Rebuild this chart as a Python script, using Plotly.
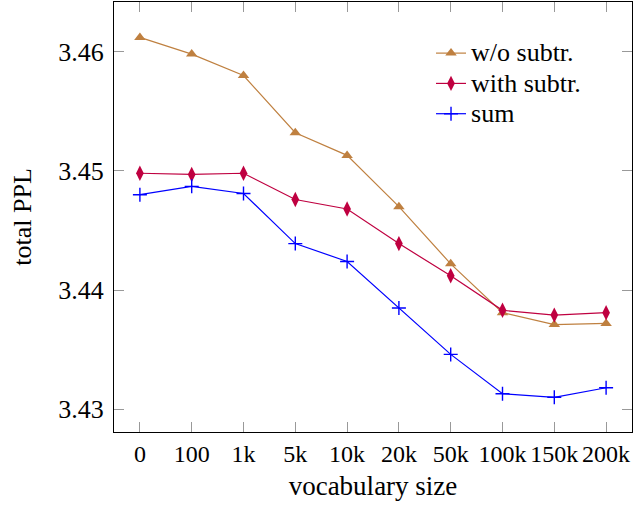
import plotly.graph_objects as go

categories = ["0", "100", "1k", "5k", "10k", "20k", "50k", "100k", "150k", "200k"]
wo_subtr = [3.4612, 3.4598, 3.4580, 3.4532, 3.4513, 3.4470, 3.4422, 3.4381, 3.4371, 3.4372]
with_subtr = [3.4498, 3.4497, 3.4498, 3.4476, 3.4468, 3.4439, 3.4412, 3.4383, 3.4379, 3.4381]
sum_vals = [3.4480, 3.4487, 3.4481, 3.4439, 3.4424, 3.4385, 3.4346, 3.4313, 3.4310, 3.4318]
y_ticks = [3.43, 3.44, 3.45, 3.46]
series_names = ["w/o subtr.", "with subtr.", "sum"]

BROWN = "#BF8040"
PURPLE = "#BF0040"
BLUE = "#0000FF"
FONT = "Liberation Serif"


def legend_label(name):
    return f"<span style='font-size:26px'>{name}</span>"


x = list(range(len(categories)))
fig = go.Figure()
fig.add_trace(go.Scatter(x=x, y=wo_subtr, name=legend_label(series_names[0]), mode="lines+markers",
                         line=dict(color=BROWN, width=1.2),
                         marker=dict(symbol="triangle-up", size=10, color=BROWN)))
fig.add_trace(go.Scatter(x=x, y=with_subtr, name=legend_label(series_names[1]), mode="lines+markers",
                         line=dict(color=PURPLE, width=1.2),
                         marker=dict(symbol="diamond-tall", size=11, color=PURPLE)))
fig.add_trace(go.Scatter(x=x, y=sum_vals, name=legend_label(series_names[2]), mode="lines+markers",
                         line=dict(color=BLUE, width=1.2),
                         marker=dict(symbol="cross-thin", size=10, color=BLUE,
                                     line=dict(color=BLUE, width=1.4))))

fig.update_layout(
    width=642, height=507,
    margin=dict(l=114, r=10, t=2, b=75, autoexpand=False),
    paper_bgcolor="white", plot_bgcolor="white",
    font=dict(family=FONT, size=25, color="black"),
    showlegend=True,
    legend=dict(x=0.612, y=0.928, xanchor="left", yanchor="top",
                bgcolor="rgba(0,0,0,0)", borderwidth=0,
                font=dict(family=FONT, size=21), tracegroupgap=0,
                itemwidth=30),
    xaxis=dict(
        tickmode="array", tickvals=x, ticktext=categories,
        range=[-0.5, len(categories) - 0.5],
        showgrid=False, zeroline=False,
        showline=True, linecolor="black", linewidth=1.3, mirror="all",
        ticks="inside", ticklen=10, tickcolor="#999999", tickwidth=1,
        tickfont=dict(family=FONT, size=24),
        title=dict(text="vocabulary size", font=dict(family=FONT, size=27), standoff=10),
    ),
    yaxis=dict(
        tickmode="array", tickvals=y_ticks, ticktext=[f"{v:.2f}" for v in y_ticks],
        range=[3.42809, 3.46417],
        showgrid=False, zeroline=False,
        showline=True, linecolor="black", linewidth=1.3, mirror="all",
        ticks="inside", ticklen=10, tickcolor="#999999", tickwidth=1,
        ticklabelstandoff=4,
        tickfont=dict(family=FONT, size=26),
        title=dict(text="total PPL", font=dict(family=FONT, size=26), standoff=19),
    ),
)

fig.write_html("out.html", config={"displayModeBar": False},
               post_script="document.body.style.margin='0';")
